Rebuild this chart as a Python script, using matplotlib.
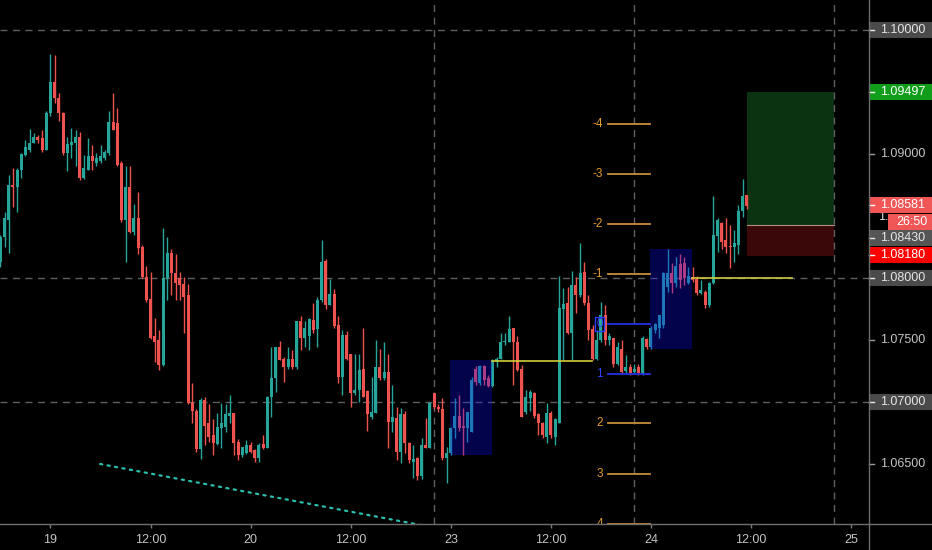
import matplotlib
matplotlib.use("Agg")
import matplotlib.pyplot as plt
import matplotlib.transforms as mtransforms
from matplotlib.patches import Rectangle
from matplotlib.lines import Line2D
import numpy as np

# ---------------- data (30-minute EURUSD candles) ----------------
first_index = -12   # candle index relative to 19th 00:00 (half-hour units)
opens = [1.0813,1.0833,1.0847,1.0875,1.0873,1.0887,1.0899,1.0903,1.0909,1.0914,
         1.0913,1.0903,1.0933,1.0958,1.0945,1.0933,1.0901,1.0907,1.0909,1.0914,
         1.0881,1.0887,1.0898,1.0893,1.0894,1.0897,1.0901,1.0926,1.0925,1.0893,
         1.0847,1.0873,1.0837,1.0848,1.0825,1.0801,1.0783,1.0753,1.0750,1.0730,
         1.0800,1.0820,1.0804,1.0800,1.0795,1.0786,1.0699,1.0693,1.0662,1.0702,
         1.0683,1.0673,1.0666,1.0679,1.0680,1.0689,1.0691,1.0668,1.0657,1.0659,
         1.0665,1.0661,1.0655,1.0666,1.0663,1.0704,1.0719,1.0744,1.0735,1.0728,
         1.0735,1.0728,1.0765,1.0752,1.0753,1.0766,1.0759,1.0782,1.0814,1.0778,
         1.0787,1.0762,1.0720,1.0754,1.0739,1.0707,1.0710,1.0727,1.0709,1.0688,
         1.0691,1.0728,1.0719,1.0724,1.0684,1.0687,1.0660,1.0690,1.0667,1.0652,
         1.0655,1.0640,1.0665,1.0663,1.0707,1.0696,1.0694,1.0655,1.0659,1.0679,
         1.0689,1.0681,1.0679,1.0676,1.0727,1.0715,1.0729,1.0719,1.0713,1.0732,
         1.0735,1.0748,1.0748,1.0760,1.0748,1.0727,1.0692,1.0703,1.0707,1.0690,
         1.0683,1.0672,1.0691,1.0672,1.0683,1.0775,1.0780,1.0756,1.0794,1.0786,
         1.0805,1.0780,1.0759,1.0735,1.0750,1.0770,1.0750,1.0752,1.0731,1.0743,
         1.0725,1.0728,1.0724,1.0728,1.0723,1.0751,1.0744,1.0758,1.0760,1.0762,
         1.0793,1.0804,1.0796,1.0811,1.0812,1.0796,1.0801,1.0799,1.0788,1.0789,
         1.0778,1.0796,1.0834,1.0844,1.0831,1.0826,1.0825,1.0827,1.0854,1.0867]
highs = [1.0835,1.0853,1.0883,1.0889,1.0889,1.0901,1.0911,1.0920,1.0917,1.0915,
         1.0919,1.0935,1.0981,1.0980,1.0949,1.0934,1.0914,1.0921,1.0919,1.0918,
         1.0899,1.0913,1.0907,1.0901,1.0907,1.0903,1.0935,1.0949,1.0937,1.0894,
         1.0890,1.0890,1.0860,1.0869,1.0827,1.0810,1.0805,1.0768,1.0758,1.0840,
         1.0833,1.0823,1.0819,1.0805,1.0801,1.0795,1.0715,1.0694,1.0703,1.0704,
         1.0698,1.0686,1.0691,1.0699,1.0698,1.0706,1.0691,1.0670,1.0664,1.0669,
         1.0668,1.0662,1.0667,1.0673,1.0705,1.0744,1.0744,1.0749,1.0736,1.0744,
         1.0742,1.0765,1.0769,1.0765,1.0768,1.0780,1.0785,1.0831,1.0815,1.0799,
         1.0791,1.0769,1.0758,1.0757,1.0739,1.0739,1.0739,1.0760,1.0710,1.0720,
         1.0750,1.0743,1.0748,1.0739,1.0714,1.0696,1.0695,1.0693,1.0668,1.0665,
         1.0656,1.0671,1.0687,1.0700,1.0707,1.0698,1.0703,1.0664,1.0680,1.0703,
         1.0706,1.0695,1.0692,1.0720,1.0729,1.0730,1.0730,1.0722,1.0735,1.0736,
         1.0756,1.0756,1.0769,1.0760,1.0753,1.0730,1.0710,1.0710,1.0708,1.0691,
         1.0684,1.0699,1.0693,1.0687,1.0802,1.0792,1.0793,1.0806,1.0801,1.0828,
         1.0813,1.0786,1.0762,1.0758,1.0781,1.0778,1.0756,1.0752,1.0748,1.0750,
         1.0738,1.0731,1.0731,1.0731,1.0753,1.0752,1.0761,1.0764,1.0770,1.0805,
         1.0823,1.0812,1.0817,1.0819,1.0817,1.0809,1.0809,1.0802,1.0798,1.0790,
         1.0797,1.0866,1.0848,1.0845,1.0848,1.0843,1.0839,1.0859,1.0880,1.0867]
lows = [1.0809,1.0825,1.0820,1.0857,1.0853,1.0881,1.0898,1.0902,1.0909,1.0909,
        1.0902,1.0903,1.0931,1.0941,1.0927,1.0899,1.0886,1.0897,1.0890,1.0879,
        1.0880,1.0887,1.0887,1.0890,1.0893,1.0895,1.0899,1.0919,1.0890,1.0845,
        1.0813,1.0836,1.0835,1.0819,1.0800,1.0781,1.0751,1.0732,1.0726,1.0729,
        1.0782,1.0786,1.0782,1.0782,1.0756,1.0698,1.0683,1.0660,1.0654,1.0665,
        1.0668,1.0657,1.0665,1.0663,1.0676,1.0683,1.0657,1.0653,1.0656,1.0658,
        1.0659,1.0652,1.0652,1.0662,1.0663,1.0688,1.0708,1.0734,1.0716,1.0727,
        1.0727,1.0727,1.0742,1.0744,1.0742,1.0756,1.0744,1.0781,1.0775,1.0778,
        1.0760,1.0715,1.0706,1.0734,1.0696,1.0706,1.0700,1.0704,1.0677,1.0686,
        1.0691,1.0718,1.0718,1.0663,1.0676,1.0653,1.0651,1.0659,1.0651,1.0639,
        1.0637,1.0638,1.0663,1.0663,1.0694,1.0692,1.0653,1.0635,1.0657,1.0671,
        1.0677,1.0657,1.0668,1.0676,1.0714,1.0714,1.0714,1.0712,1.0712,1.0728,
        1.0735,1.0746,1.0748,1.0714,1.0725,1.0688,1.0690,1.0693,1.0687,1.0673,
        1.0671,1.0667,1.0671,1.0665,1.0683,1.0734,1.0755,1.0734,1.0772,1.0785,
        1.0778,1.0750,1.0734,1.0734,1.0748,1.0746,1.0746,1.0728,1.0730,1.0723,
        1.0723,1.0722,1.0723,1.0722,1.0722,1.0743,1.0743,1.0756,1.0752,1.0760,
        1.0789,1.0788,1.0793,1.0792,1.0794,1.0795,1.0797,1.0786,1.0787,1.0776,
        1.0777,1.0795,1.0821,1.0823,1.0820,1.0808,1.0813,1.0819,1.0849,1.0856]
closes = [1.0833,1.0848,1.0875,1.0873,1.0887,1.0900,1.0906,1.0909,1.0914,1.0911,
          1.0903,1.0933,1.0958,1.0945,1.0933,1.0901,1.0908,1.0910,1.0914,1.0881,
          1.0889,1.0898,1.0894,1.0897,1.0898,1.0902,1.0926,1.0919,1.0891,1.0847,
          1.0873,1.0837,1.0848,1.0824,1.0801,1.0782,1.0752,1.0748,1.0730,1.0800,
          1.0820,1.0804,1.0796,1.0794,1.0785,1.0699,1.0693,1.0662,1.0702,1.0681,
          1.0672,1.0667,1.0680,1.0683,1.0690,1.0691,1.0667,1.0657,1.0664,1.0665,
          1.0660,1.0655,1.0665,1.0663,1.0704,1.0719,1.0744,1.0734,1.0728,1.0735,
          1.0728,1.0765,1.0752,1.0760,1.0767,1.0758,1.0782,1.0813,1.0778,1.0787,
          1.0761,1.0720,1.0754,1.0735,1.0707,1.0710,1.0726,1.0704,1.0690,1.0692,
          1.0728,1.0719,1.0724,1.0684,1.0688,1.0660,1.0690,1.0667,1.0653,1.0654,
          1.0640,1.0665,1.0663,1.0699,1.0696,1.0694,1.0655,1.0659,1.0679,1.0689,
          1.0679,1.0679,1.0692,1.0718,1.0716,1.0729,1.0718,1.0713,1.0733,1.0735,
          1.0748,1.0749,1.0759,1.0748,1.0726,1.0688,1.0704,1.0708,1.0689,1.0683,
          1.0673,1.0691,1.0673,1.0686,1.0776,1.0779,1.0756,1.0794,1.0786,1.0804,
          1.0780,1.0758,1.0735,1.0750,1.0770,1.0750,1.0753,1.0731,1.0744,1.0724,
          1.0728,1.0723,1.0727,1.0723,1.0752,1.0744,1.0760,1.0763,1.0770,1.0804,
          1.0804,1.0796,1.0810,1.0798,1.0800,1.0802,1.0798,1.0788,1.0790,1.0778,
          1.0796,1.0835,1.0847,1.0829,1.0825,1.0825,1.0828,1.0854,1.0866,1.08581]

x_tick_index = [0, 24, 48, 72, 96, 120, 144, 168, 192]
x_tick_labels = ["19", "12:00", "20", "12:00", "23", "12:00", "24", "12:00", "25"]
session_breaks = [92, 140, 188]

axis_ticks = [1.065, 1.075, 1.090]
hline_levels = [1.10, 1.08, 1.07]

# price scale badges: (value text, shown at price, background, text colour)
badges = [("1.10000", 1.10000, "#4a4a4a", "#e6e6e6"),
          ("1.09497", 1.09497, "#0f9d1a", "#ffffff"),
          ("1.08000", 1.08000, "#4a4a4a", "#e6e6e6"),
          ("1.07000", 1.07000, "#4a4a4a", "#e6e6e6"),
          ("1.08180", 1.08186, "#ff0000", "#ffffff"),
          ("1.08430", 1.08319, "#555555", "#e6e6e6"),
          ("1.08581", 1.08591, "#f05656", "#ffffff")]
countdown = ("26:50", 1.08452)
hidden_label = ("1.", 1.08492)

# fib-style levels
fib_labels = ["-4", "-3", "-2", "-1", "0", "1", "2", "3", "4"]
fib_prices = [1.09242, 1.08839, 1.08436, 1.08032, 1.07629, 1.07226, 1.06831, 1.06419, 1.06016]
fib_span = [133.7, 143.8]

# blue zones (index start, index end, price low, price high)
zones = [(95.9, 105.9, 1.06573, 1.07339), (143.8, 153.9, 1.07428, 1.08234)]
# yellow levels (index start, index end, price)
yellow_lines = [(105.9, 129.9, 1.07331), (153.9, 177.9, 1.08000)]
# long position
pos_span = [167.1, 188.0]
pos_target, pos_entry, pos_stop = 1.09497, 1.08430, 1.08180
# dotted trend line
trend_index = [11.9, 90.0]
trend_price = [1.06500, 1.06000]

# ---------------- figure ----------------
W, H = 932, 550
fig = plt.figure(figsize=(W / 100, H / 100), dpi=100, facecolor="black")
ax_bottom_px = 26
ax_right_px = 869
ax = fig.add_axes([0, ax_bottom_px / H, ax_right_px / W, (H - ax_bottom_px) / H])
ax.set_facecolor("black")
ax.set_xlim(-12.11, 196.3)
ax.set_ylim(1.06016, 1.10242)
for s in ax.spines.values():
    s.set_visible(False)

FONT = "Liberation Sans"
up_col, dn_col = "#26a69a", "#ef5350"

n = len(opens)
idx = np.arange(first_index, first_index + n)
o = np.array(opens); h = np.array(highs); l = np.array(lows); c = np.array(closes)
cols = np.where(c >= o, up_col, dn_col)

# position box (under candles)
ax.add_patch(Rectangle((pos_span[0], pos_entry), pos_span[1] - pos_span[0], pos_target - pos_entry,
                       facecolor="#0b3312", edgecolor="none", zorder=1))
ax.add_patch(Rectangle((pos_span[0], pos_stop), pos_span[1] - pos_span[0], pos_entry - pos_stop,
                       facecolor="#3a0808", edgecolor="none", zorder=1))
ax.plot(pos_span, [pos_entry, pos_entry], color="#b58a80", lw=0.8, zorder=1.5)

# dashed horizontal & vertical lines
for lv in hline_levels:
    ax.axhline(lv, color="#606060", lw=1, dashes=(5, 4), zorder=2)
for sb in session_breaks:
    ax.axvline(sb, color="#606060", lw=1, dashes=(5, 4), zorder=2)

# candles
body_lo = np.minimum(o, c)
body_h = np.maximum(np.abs(c - o), 0.00009)
ax.vlines(idx, l, h, colors=cols, lw=1.0, zorder=3)
ax.bar(idx, body_h, bottom=body_lo, width=0.72, color=cols, edgecolor="none", zorder=4)

# blue zones over candles
for k0, k1, p0, p1 in zones:
    ax.add_patch(Rectangle((k0, p0), k1 - k0, p1 - p0, facecolor="#0a0aff",
                           alpha=0.30, edgecolor="none", zorder=5))

# yellow levels
for k0, k1, p in yellow_lines:
    ax.plot([k0, k1], [p, p], color="#d2cd3a", lw=1.2, zorder=6)

# fib levels
for lab, p in zip(fib_labels, fib_prices):
    blue = lab in ("0", "1")
    lc = "#2230e6" if blue else "#c98d3e"
    tc = "#3040ff" if blue else "#e39b2f"
    ax.plot(fib_span, [p, p], color=lc, lw=1.3, zorder=6)
    kw = {}
    if lab == "0":
        kw["bbox"] = dict(boxstyle="square,pad=0.12", facecolor="none", edgecolor="#2a3cff", lw=1)
    ax.text(fib_span[0] - 1.2, p, lab, color=tc, fontsize=8.5, ha="right", va="center",
            family=FONT, zorder=7, clip_on=True, **kw)

# trend line
ax.plot(trend_index, trend_price, color="#2bbfae", lw=1.6, linestyle=(0, (1, 2.4)),
        dash_capstyle="round", zorder=6)

# x axis
ax.set_xticks(x_tick_index)
ax.set_xticklabels(x_tick_labels)
ax.tick_params(axis="x", colors="#7a7a7a", length=3, width=1, direction="out", pad=4,
               labelcolor="#c4c4c4", labelsize=9)
for t in ax.get_xticklabels():
    t.set_family(FONT)
ax.set_yticks([])

# axis lines
fig.add_artist(Line2D([0, 1], [ax_bottom_px / H] * 2, color="#6e6e6e", lw=1))
fig.add_artist(Line2D([ax_right_px / W] * 2, [0, 1], color="#6e6e6e", lw=1))

# price scale
trans = mtransforms.blended_transform_factory(ax.transAxes, ax.transData)
xr = W / ax_right_px          # right edge of figure in axes coords
x_txt = 880 / ax_right_px
bh = 16 / 12400.0

for p in axis_ticks:
    ax.plot([1.0, 1.006], [p, p], transform=trans, color="#9a9a9a", lw=1, clip_on=False)
    ax.text(x_txt, p, f"{p:.5f}", transform=trans, color="#c4c4c4", fontsize=9,
            ha="left", va="center", family=FONT, clip_on=False)

# partially hidden label beside the countdown
ax.text(x_txt - 0.002, hidden_label[1], hidden_label[0], transform=trans, color="#dddddd",
        fontsize=9, ha="left", va="center", family=FONT, clip_on=False, zorder=8)

for txt, p, bg, fg in badges:
    ax.add_patch(Rectangle((1.0005, p - bh / 2), xr - 1.0005, bh, transform=trans,
                           facecolor=bg, edgecolor="none", clip_on=False, zorder=9))
    ax.plot([1.0005, 1.006], [p, p], transform=trans, color=fg, lw=1, clip_on=False, zorder=10)
    ax.text(x_txt, p, txt, transform=trans, color=fg, fontsize=9, ha="left", va="center",
            family=FONT, clip_on=False, zorder=10)

ct, cp = countdown
x_cd = 888 / ax_right_px
ax.add_patch(Rectangle((x_cd, cp - bh / 2), xr - x_cd, bh, transform=trans,
                       facecolor="#f05656", edgecolor="none", clip_on=False, zorder=9))
ax.text(896 / ax_right_px, cp, ct, transform=trans, color="#ffffff", fontsize=9,
        ha="left", va="center", family=FONT, clip_on=False, zorder=10)

fig.savefig("out.png", dpi=100, facecolor="black")
